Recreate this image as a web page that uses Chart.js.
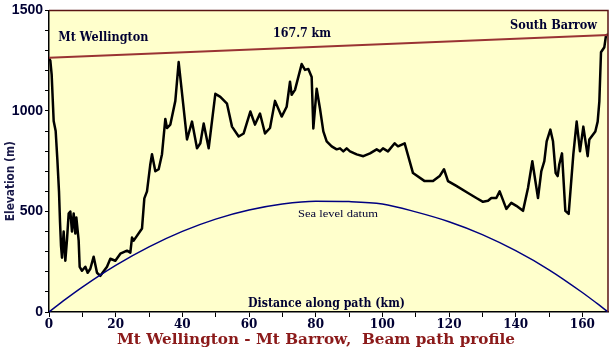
<!DOCTYPE html>
<html>
<head>
<meta charset="utf-8">
<script src="https://cdn.jsdelivr.net/npm/chart.js@4/dist/chart.umd.min.js"></script>
<style>
  html, body { margin: 0; padding: 0; background: #ffffff; }
  #wrap { width: 611px; height: 351px; position: relative; }
</style>
</head>
<body>
<div id="wrap"><canvas id="c" width="611" height="351"></canvas></div>
<script>
// ---- Data ----
const terrainKm = [0,0.4,0.8,1.4,2.0,2.5,3.0,3.3,3.6,3.9,4.4,4.9,5.4,5.9,6.4,6.9,7.4,7.9,8.2,8.9,9.2,9.9,10.9,11.6,12.4,13.4,14.4,15.4,17.4,18.4,19.9,21.4,23.4,24.4,24.9,25.4,27.9,28.6,29.4,30.4,30.9,31.9,32.9,33.9,34.9,35.4,36.4,37.9,38.9,41.4,42.9,44.4,45.4,46.4,47.9,49.9,51.4,53.4,54.9,56.9,58.4,60.4,61.8,63.3,64.8,66.3,67.8,69.8,71.3,72.3,72.8,73.8,75.8,76.8,77.8,78.8,79.3,80.3,81.3,82.3,83.3,84.8,86.3,87.3,88.3,89.3,90.3,92.3,94.3,96.3,98.3,99.3,100.2,101.7,103.7,104.7,106.7,109.2,112.7,115.2,117.2,118.5,119.7,122.2,125.7,128.2,130.2,131.7,132.7,134.2,135.2,137.2,138.7,140.2,142.2,143.7,145.0,146.7,147.7,148.6,149.3,150.4,151.2,152.0,152.6,153.1,153.9,154.9,155.9,157.3,158.3,159.3,160.3,161.6,162.1,163.9,164.6,165.1,165.6,166.6,167.1,167.7];
const terrainElev = [1262,1250,1180,950,900,760,600,450,330,270,400,255,360,490,500,400,490,390,470,355,225,205,225,195,215,275,195,180,225,265,255,290,305,295,370,355,415,565,600,735,785,700,710,785,960,915,932,1050,1243,858,947,814,839,937,814,1085,1070,1036,922,873,888,997,932,987,888,915,1050,972,1021,1145,1080,1105,1233,1204,1209,1169,913,1110,1011,898,849,824,809,814,799,814,799,784,775,789,809,799,814,799,839,824,839,691,651,651,676,710,651,627,592,567,548,553,567,567,600,513,543,528,503,617,750,567,701,750,849,907,849,691,676,735,789,503,488,784,947,799,922,775,858,898,947,1046,1292,1317,1376,1380];

const beamKm = [0, 167.7];
const beamElev = [1265, 1378];

const datumKm = [0,5,10,20,30,40,50,60,70,80,90,100,110,120,130,140,150,160,165,167.7];
const datumElev = [0,64,124,232,324,401,462,507,537,551,549,537,498,449,385,305,210,97,35,0];

const xTickValues = [0,10,20,30,40,50,60,70,80,90,100,110,120,130,140,150,160];
const xTickLabels = ['0','','20','','40','','60','','80','','100','','120','','140','','160'];
const yTickValues = [0,100,200,300,400,500,600,700,800,900,1000,1100,1200,1300,1400,1500];
const yTickLabels = ['0','','','','','500','','','','','1000','','','','','1500'];

const pathLength = '167.7 km';
const startName = 'Mt Wellington';
const endName = 'South Barrow';
const datumLabel = 'Sea level datum';
const xAxisLabel = 'Distance along path (km)';
const yAxisLabel = 'Elevation (m)';
const chartTitle = 'Mt Wellington - Mt Barrow,  Beam path profile';

// ---- Helpers ----
const toPts = (xs, ys) => xs.map((x, i) => ({ x: x, y: ys[i] }));
const SERIF = '"DejaVu Serif", "Liberation Serif", serif';

// draw text stretched horizontally to a target width (anchor: left/center/right)
function fitText(ctx, text, ax, ay, targetW, align) {
  const w = ctx.measureText(text).width;
  let s = targetW / w;
  s = Math.max(0.8, Math.min(1.3, s));
  ctx.save();
  ctx.translate(ax, ay);
  ctx.scale(s, 1);
  ctx.textAlign = align;
  ctx.fillText(text, 0, 0);
  ctx.restore();
}

const bgPlugin = {
  id: 'bg',
  beforeDraw(chart) {
    const { ctx, chartArea: a } = chart;
    ctx.save();
    ctx.fillStyle = '#FFFFCC';
    ctx.fillRect(a.left, a.top, a.right - a.left, a.bottom - a.top);
    ctx.restore();
  },
  afterDatasetsDraw(chart) {
    const { ctx, chartArea: a } = chart;
    ctx.save();
    ctx.strokeStyle = '#5a1414';
    ctx.lineWidth = 1.5;
    ctx.beginPath();
    ctx.moveTo(a.left, a.top);
    ctx.lineTo(a.right, a.top);
    ctx.lineTo(a.right, a.bottom);
    ctx.stroke();
    ctx.restore();
  }
};

const textPlugin = {
  id: 'texts',
  afterDraw(chart) {
    const { ctx, scales: { x, y }, chartArea: a } = chart;
    ctx.save();
    ctx.fillStyle = '#000033';
    ctx.textBaseline = 'middle';
    ctx.font = 'bold 12px ' + SERIF;
    fitText(ctx, startName, x.getPixelForValue(2.8), y.getPixelForValue(1362), 90, 'left');
    fitText(ctx, endName, x.getPixelForValue(164.4), y.getPixelForValue(1421), 87, 'right');
    fitText(ctx, pathLength, x.getPixelForValue(75.9), y.getPixelForValue(1381), 58, 'center');
    fitText(ctx, xAxisLabel, x.getPixelForValue(59.7), y.getPixelForValue(42), 157, 'left');
    ctx.font = '11px "Liberation Serif", "Times New Roman", serif';
    fitText(ctx, datumLabel, x.getPixelForValue(74.7), y.getPixelForValue(488), 80, 'left');

    // y axis title
    ctx.save();
    ctx.translate(11, (a.top + a.bottom) / 2 + 20);
    ctx.rotate(-Math.PI / 2);
    ctx.font = 'bold 13px "DejaVu Sans", "Liberation Sans", Arial, sans-serif';
    ctx.fillStyle = '#1a1a4a';
    fitText(ctx, yAxisLabel, 0, 0, 80, 'center');
    ctx.restore();

    // bottom title
    ctx.textBaseline = 'alphabetic';
    ctx.font = 'bold 14px ' + SERIF;
    ctx.fillStyle = '#8B1A1A';
    fitText(ctx, chartTitle, 316, 344, 398, 'center');
    ctx.restore();
  }
};

new Chart(document.getElementById('c'), {
  type: 'line',
  data: {
    datasets: [
      {
        label: 'Beam',
        data: toPts(beamKm, beamElev),
        borderColor: '#993333',
        borderWidth: 2,
        pointRadius: 0,
        tension: 0
      },
      {
        label: 'Sea level datum',
        data: toPts(datumKm, datumElev),
        borderColor: '#000080',
        borderWidth: 1.5,
        pointRadius: 0,
        cubicInterpolationMode: 'monotone'
      },
      {
        label: 'Terrain',
        data: toPts(terrainKm, terrainElev),
        borderColor: '#000000',
        borderWidth: 2.5,
        pointRadius: 0,
        tension: 0,
        borderJoinStyle: 'round'
      }
    ]
  },
  options: {
    responsive: false,
    animation: false,
    devicePixelRatio: 1,
    layout: { padding: { top: 8, right: 3, left: 0, bottom: 0 } },
    plugins: {
      legend: { display: false },
      tooltip: { enabled: false },
      title: { display: false }
    },
    scales: {
      x: {
        type: 'linear',
        min: 0,
        max: 167.7,
        afterBuildTicks(scale) { scale.ticks = xTickValues.map(v => ({ value: v })); },
        afterFit(scale) { scale.height = 39; },
        ticks: {
          autoSkip: false,
          maxRotation: 0,
          padding: 1,
          color: '#000033',
          font: { family: SERIF, size: 12, weight: 'bold' },
          callback(v) { const i = xTickValues.indexOf(v); return i >= 0 ? xTickLabels[i] : ''; }
        },
        grid: { drawOnChartArea: false, drawTicks: true, tickLength: 5, color: '#000000' },
        border: { display: true, color: '#000000', width: 1.5 }
      },
      y: {
        type: 'linear',
        min: 0,
        max: 1500,
        afterBuildTicks(scale) { scale.ticks = yTickValues.map(v => ({ value: v })); },
        afterFit(scale) { scale.width = 49; },
        ticks: {
          autoSkip: false,
          padding: 2,
          color: '#000033',
          font: { family: '"Liberation Sans", Arial, sans-serif', size: 14, weight: 'bold' },
          callback(v) { const i = yTickValues.indexOf(v); return i >= 0 ? yTickLabels[i] : ''; }
        },
        grid: { drawOnChartArea: false, drawTicks: true, tickLength: 4, color: '#000000' },
        border: { display: true, color: '#000000', width: 1.5 }
      }
    }
  },
  plugins: [bgPlugin, textPlugin]
});
</script>
</body>
</html>
